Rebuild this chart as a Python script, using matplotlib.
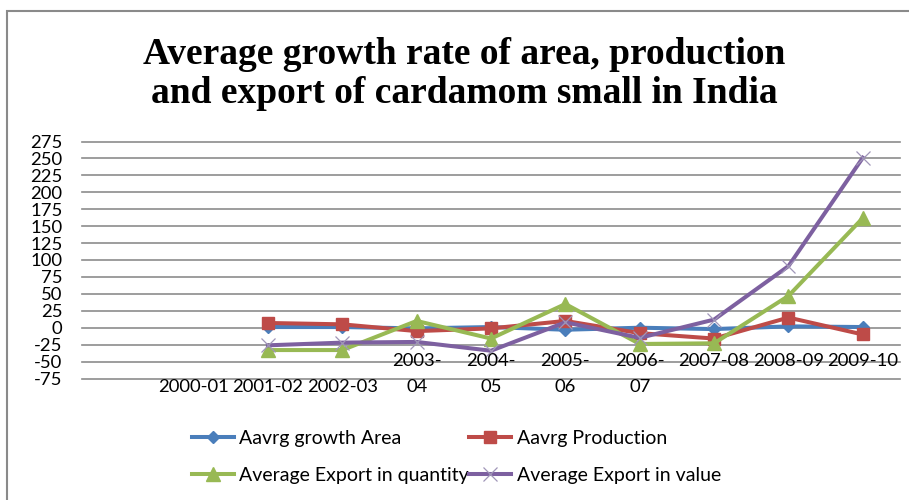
import numpy as np
import matplotlib.pyplot as plt
from matplotlib.patches import Rectangle

# growth rates (%) by year, first slot is an empty category
years = ['', '2000-01', '2001-02', '2002-03', '2003-\n04', '2004-\n05',
         '2005-\n06', '2006-\n07', '2007-08', '2008-09', '2009-10']
area = [np.nan, np.nan, 1, 1, -1, 1, -3, 0, -2, 2, 1]
production = [np.nan, np.nan, 7, 5, -5, -1, 10, -8, -16, 15, -10]
export_qty = [np.nan, np.nan, -33, -33, 10, -16, 35, -24, -23, 47, 162]
export_val = [np.nan, np.nan, -26, -22, -21, -34, 8, -15, 12, 91, 251]

yticks = list(range(-75, 276, 25))

font = 'Lato'
fs = 13.3
fig = plt.figure(figsize=(9.09, 5.0), dpi=100)
ax = fig.add_axes([82/909, 1 - 378.5/500, 818/909, 237/500])

x = np.arange(len(years))
l1, = ax.plot(x, area, color='#4a7ebb', lw=2.9, marker='D', ms=6.5,
              label='Aavrg growth Area')
l2, = ax.plot(x, production, color='#be4b48', lw=2.9, marker='s', ms=9,
              label='Aavrg Production')
l3, = ax.plot(x, export_qty, color='#98b954', lw=2.9, marker='^', ms=10,
              label='Average Export in quantity')
l4, = ax.plot(x, export_val, color='#7d60a0', lw=2.9, marker='x', ms=10,
              mew=0.9, mec='#a096b8', label='Average Export in value')

ax.set_xlim(-0.5, len(years) - 0.5)
ax.set_ylim(-75, 275)
ax.set_yticks(yticks)
ax.set_yticklabels([str(t) for t in yticks], fontsize=fs, family=font)
ax.tick_params(axis='y', length=0, pad=14)
ax.set_xticks([])
for t in yticks:
    ax.axhline(t, color='#8c8c8c', lw=1.2, zorder=0, clip_on=False)
for s in ax.spines.values():
    s.set_visible(False)

# category labels: wrapped ones take both rows, the rest sit on one row
upper, lower = 17/237, -9/237
tr = ax.get_xaxis_transform()
for i, lab in enumerate(years):
    parts = lab.split('\n')
    if len(parts) == 2:
        ax.text(i, upper, parts[0], transform=tr, ha='center', va='center',
                fontsize=fs, family=font)
        ax.text(i, lower, parts[1], transform=tr, ha='center', va='center',
                fontsize=fs, family=font)
    elif lab:
        row = lower if i < 4 else upper
        ax.text(i, row, lab, transform=tr, ha='center', va='center',
                fontsize=fs, family=font)

fig.text(0.511, 1 - 74/500,
         'Average growth rate of area, production\nand export of cardamom small in India',
         ha='center', va='center', fontsize=27, fontweight='bold',
         family='Liberation Serif', linespacing=1.12)

# legend reads row by row
leg = fig.legend([l1, l3, l2, l4],
                 [l1.get_label(), l3.get_label(), l2.get_label(), l4.get_label()],
                 ncol=2, loc='upper left', bbox_to_anchor=(182/909, 1 - 420/500),
                 frameon=False, prop={'family': font, 'size': 14},
                 handlelength=2.15, handletextpad=0.3, columnspacing=0.0,
                 labelspacing=1.05, borderpad=0)

fig.patches.append(Rectangle((7/909, -0.1), 1.1, 1 - 11/500 + 0.1,
                             transform=fig.transFigure, fill=False,
                             edgecolor='#8a8a8a', lw=1.5))

fig.savefig('out.png', dpi=100)
